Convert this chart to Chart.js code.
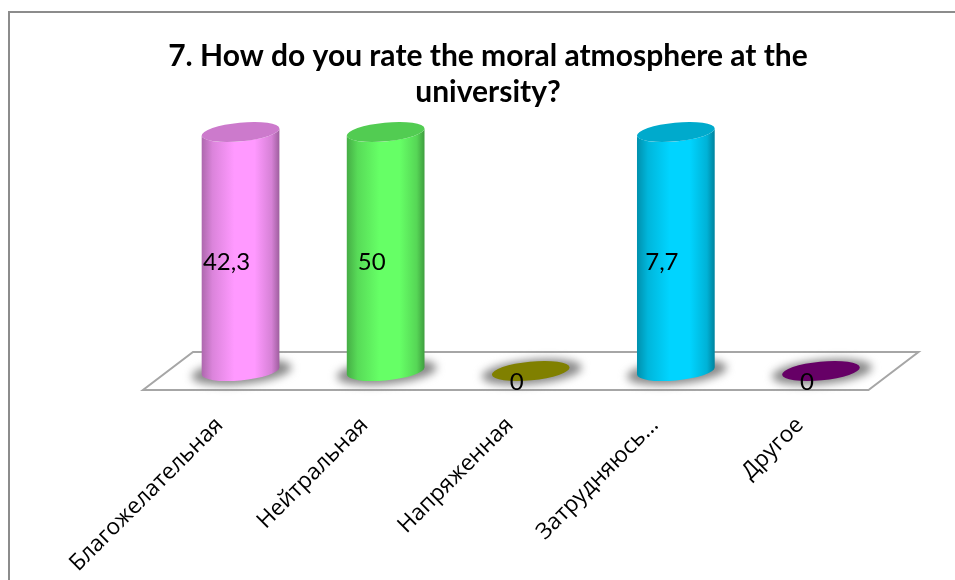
<!DOCTYPE html>
<html>
<head>
<meta charset="utf-8">
<style>
  html, body { margin: 0; padding: 0; background: #fff; overflow: hidden; }
  canvas { display: block; }
</style>
<script src="https://cdn.jsdelivr.net/npm/chart.js@4/dist/chart.umd.min.js"></script>
</head>
<body>
<canvas id="chart" width="955" height="580"></canvas>
<script>
const titleLines = ['7. How do you rate the moral atmosphere at the', 'university?'];
const categories = ['Благожелательная', 'Нейтральная', 'Напряженная', 'Затрудняюсь…', 'Другое'];
const percentages = [42.3, 50, 0, 7.7, 0];
const barColors = ['#ff99ff', '#66ff66', '#808000', '#00d4ff', '#660066'];
// The value axis stops at the smallest non-zero answer, so taller cylinders are cut off at the top.
const axisMax = 7.7;

function shade(hex, k) {
  const n = parseInt(hex.slice(1), 16);
  const c = [n >> 16 & 255, n >> 8 & 255, n & 255].map(v => Math.round(v * k));
  return `rgb(${c[0]},${c[1]},${c[2]})`;
}

const TILT = -5.5 * Math.PI / 180;
const RY = 9.4;
const DEPTH_X = 25;
const DEPTH_Y = 19;

// Floor, drop shadows, cylinders and value labels, all positioned from the bar elements.
const cylinders = {
  id: 'cylinders',
  beforeDraw(chart) {
    const { ctx, width, height } = chart;
    ctx.save();
    ctx.strokeStyle = '#8c8c8c';
    ctx.lineWidth = 2;
    ctx.beginPath();
    ctx.moveTo(9, height);
    ctx.lineTo(9, 12);
    ctx.lineTo(width, 12);
    ctx.stroke();
    ctx.restore();
  },
  beforeDatasetDraw(chart, args) {
    const { ctx, chartArea: area } = chart;
    const bars = args.meta.data;
    const base = bars[0].base;

    ctx.save();
    ctx.strokeStyle = '#a6a6a6';
    ctx.lineWidth = 2;
    ctx.beginPath();
    ctx.moveTo(area.left - DEPTH_X, base + DEPTH_Y);
    ctx.lineTo(area.right - DEPTH_X, base + DEPTH_Y);
    ctx.lineTo(area.right + DEPTH_X, base - DEPTH_Y);
    ctx.lineTo(area.left + DEPTH_X, base - DEPTH_Y);
    ctx.closePath();
    ctx.stroke();
    ctx.restore();

    bars.forEach(bar => {
      const rx = bar.width / 2;
      ctx.save();
      ctx.filter = 'blur(4px)';
      ctx.fillStyle = '#8a8a8a';
      ctx.beginPath();
      ctx.ellipse(bar.x + 1, bar.base + 1, rx + 11, RY + 3, TILT, 0, Math.PI * 2);
      ctx.fill();
      ctx.restore();
    });

    bars.forEach(bar => {
      const color = bar.options.backgroundColor;
      const rx = bar.width / 2;
      const top = Math.max(bar.y, area.top);
      const hw = Math.hypot(rx * Math.cos(TILT), RY * Math.sin(TILT));
      const t0 = Math.atan2(-RY * Math.sin(TILT), rx * Math.cos(TILT));

      ctx.save();
      if (bar.base - top > 0.5) {
        const g = ctx.createLinearGradient(bar.x - hw, 0, bar.x + hw, 0);
        g.addColorStop(0, shade(color, 0.68));
        g.addColorStop(0.14, shade(color, 0.86));
        g.addColorStop(0.42, shade(color, 1));
        g.addColorStop(0.68, shade(color, 1));
        g.addColorStop(0.9, shade(color, 0.84));
        g.addColorStop(1, shade(color, 0.62));
        ctx.fillStyle = g;
        ctx.beginPath();
        ctx.ellipse(bar.x, bar.base, rx, RY, TILT, t0, t0 + Math.PI);
        ctx.ellipse(bar.x, top, rx, RY, TILT, t0 + Math.PI, t0, true);
        ctx.closePath();
        ctx.fill();
      }
      ctx.fillStyle = bar.base - top > 0.5 ? shade(color, 0.8) : color;
      ctx.beginPath();
      ctx.ellipse(bar.x, top, rx, RY, TILT, 0, Math.PI * 2);
      ctx.fill();
      ctx.restore();
    });

    // The default flat rectangles are replaced by the shapes above.
    return false;
  },
  afterDatasetsDraw(chart) {
    const { ctx, chartArea: area } = chart;
    const meta = chart.getDatasetMeta(0);
    ctx.save();
    ctx.fillStyle = '#000';
    ctx.font = '24px Lato';
    ctx.textAlign = 'center';
    ctx.textBaseline = 'middle';
    meta.data.forEach((bar, i) => {
      const top = Math.max(bar.y, area.top);
      const text = String(percentages[i]).replace('.', ',');
      ctx.fillText(text, bar.x - 14, (top + bar.base) / 2 + 11);
    });
    ctx.restore();
  }
};

new Chart(document.getElementById('chart'), {
  type: 'bar',
  data: {
    labels: categories,
    datasets: [{
      data: percentages,
      backgroundColor: barColors,
      categoryPercentage: 0.538,
      barPercentage: 1
    }]
  },
  plugins: [cylinders],
  options: {
    responsive: false,
    animation: false,
    layout: { padding: { left: 21, right: 0, top: 0, bottom: 0 } },
    plugins: {
      legend: { display: false },
      tooltip: { enabled: false },
      title: {
        display: true,
        text: titleLines,
        color: '#000',
        font: { family: 'Lato', size: 30, weight: 'bold', lineHeight: 1.2 },
        padding: { top: 38, bottom: 22 }
      }
    },
    scales: {
      x: {
        grid: { display: false },
        border: { display: false },
        afterFit(scale) {
          scale.height = 209;
          scale.paddingLeft = 168;
          scale.paddingRight = 61.5;
        },
        ticks: {
          autoSkip: false,
          minRotation: 45,
          maxRotation: 45,
          padding: 33,
          labelOffset: -21,
          color: '#000',
          font: { family: 'Open Sans', size: 22.6 }
        }
      },
      y: {
        display: false,
        min: 0,
        max: axisMax
      }
    }
  }
});
</script>
</body>
</html>
